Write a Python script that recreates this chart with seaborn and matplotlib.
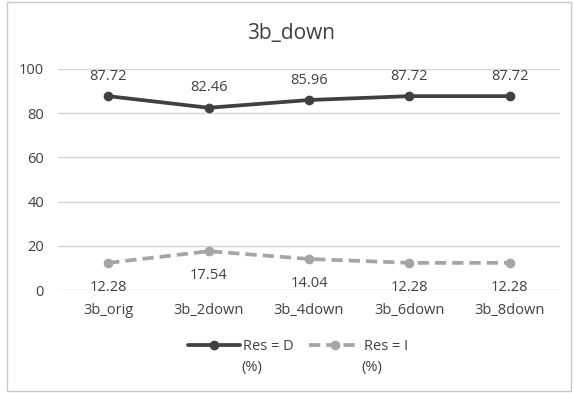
import matplotlib
matplotlib.use("Agg")
import matplotlib.pyplot as plt
import seaborn as sns
import pandas as pd
from matplotlib.patches import Rectangle
from matplotlib.lines import Line2D

categories = ["3b_orig", "3b_2down", "3b_4down", "3b_6down", "3b_8down"]
res_d = [87.72, 82.46, 85.96, 87.72, 87.72]
res_i = [12.28, 17.54, 14.04, 12.28, 12.28]
series_names = ["Res = D", "Res = I"]
y_ticks = [0, 20, 40, 60, 80, 100]

df = pd.DataFrame({
    "cat": categories * 2,
    "value": res_d + res_i,
    "series": [series_names[0]] * len(categories) + [series_names[1]] * len(categories),
})

sns.set_theme(style="white")
plt.rcParams["font.family"] = ["Open Sans", "DejaVu Sans"]

dark = "#404040"
light = "#a5a5a5"
text_c = "#404040"
fs = 10.5

fig = plt.figure(figsize=(5.74, 3.93), dpi=100)
W, H = 574, 393
ax = fig.add_axes([58 / W, 1 - 290 / H, 502 / W, 221 / H])

sns.lineplot(
    data=df, x="cat", y="value", hue="series", style="series",
    palette=[dark, light], dashes=[(1, 0), (3, 1.6)],
    markers=["o", "o"], markersize=7, markeredgewidth=0,
    linewidth=2.7, sort=False, legend=False, ax=ax,
)

ax.set_xlim(-0.5, len(categories) - 0.5)
ax.set_ylim(0, 100)
ax.set_yticks(y_ticks)
ax.set_yticklabels([str(t) for t in y_ticks])
ax.yaxis.grid(True, color="#d4d4d4", linewidth=1.0)
ax.set_axisbelow(True)
for s in ax.spines.values():
    s.set_visible(False)
ax.set_xlabel("")
ax.set_ylabel("")
ax.tick_params(axis="both", length=0, labelsize=fs, colors=text_c)
ax.tick_params(axis="x", pad=9)
ax.tick_params(axis="y", pad=10)

# value labels: D above its points, I below
for i, v in enumerate(res_d):
    ax.annotate(f"{v:.2f}", (i, v), xytext=(0, 9), textcoords="offset points",
                ha="center", va="bottom", fontsize=fs, color=text_c)
for i, v in enumerate(res_i):
    ax.annotate(f"{v:.2f}", (i, v), xytext=(0, -12), textcoords="offset points",
                ha="center", va="top", fontsize=fs, color=text_c)

fig.text(291 / W, 1 - 34 / H, "3b_down", ha="center", va="center",
         fontsize=15, color=text_c)

# legend
handles = [
    Line2D([], [], color=dark, lw=2.7, marker="o", markersize=7, markeredgewidth=0),
    Line2D([], [], color=light, lw=2.7, ls=(0, (3, 1.6)), marker="o", markersize=7, markeredgewidth=0),
]
leg = fig.legend(handles, series_names, loc="center", bbox_to_anchor=(298 / W, 1 - 347 / H),
                 ncol=2, frameon=False, fontsize=fs, handlelength=3.6, handletextpad=0.2,
                 columnspacing=1.0, labelcolor=text_c)
fig.text(252 / W, 1 - 367 / H, "(%)", ha="center", va="center", fontsize=fs, color=text_c)
fig.text(372 / W, 1 - 367 / H, "(%)", ha="center", va="center", fontsize=fs, color=text_c)

# outer frame
fig.patches.append(Rectangle((7 / W, 2 / H), 564 / W, 389 / H, transform=fig.transFigure,
                             fill=False, edgecolor="#c8c8c8", linewidth=1.0))

fig.savefig("out.png", dpi=100)
